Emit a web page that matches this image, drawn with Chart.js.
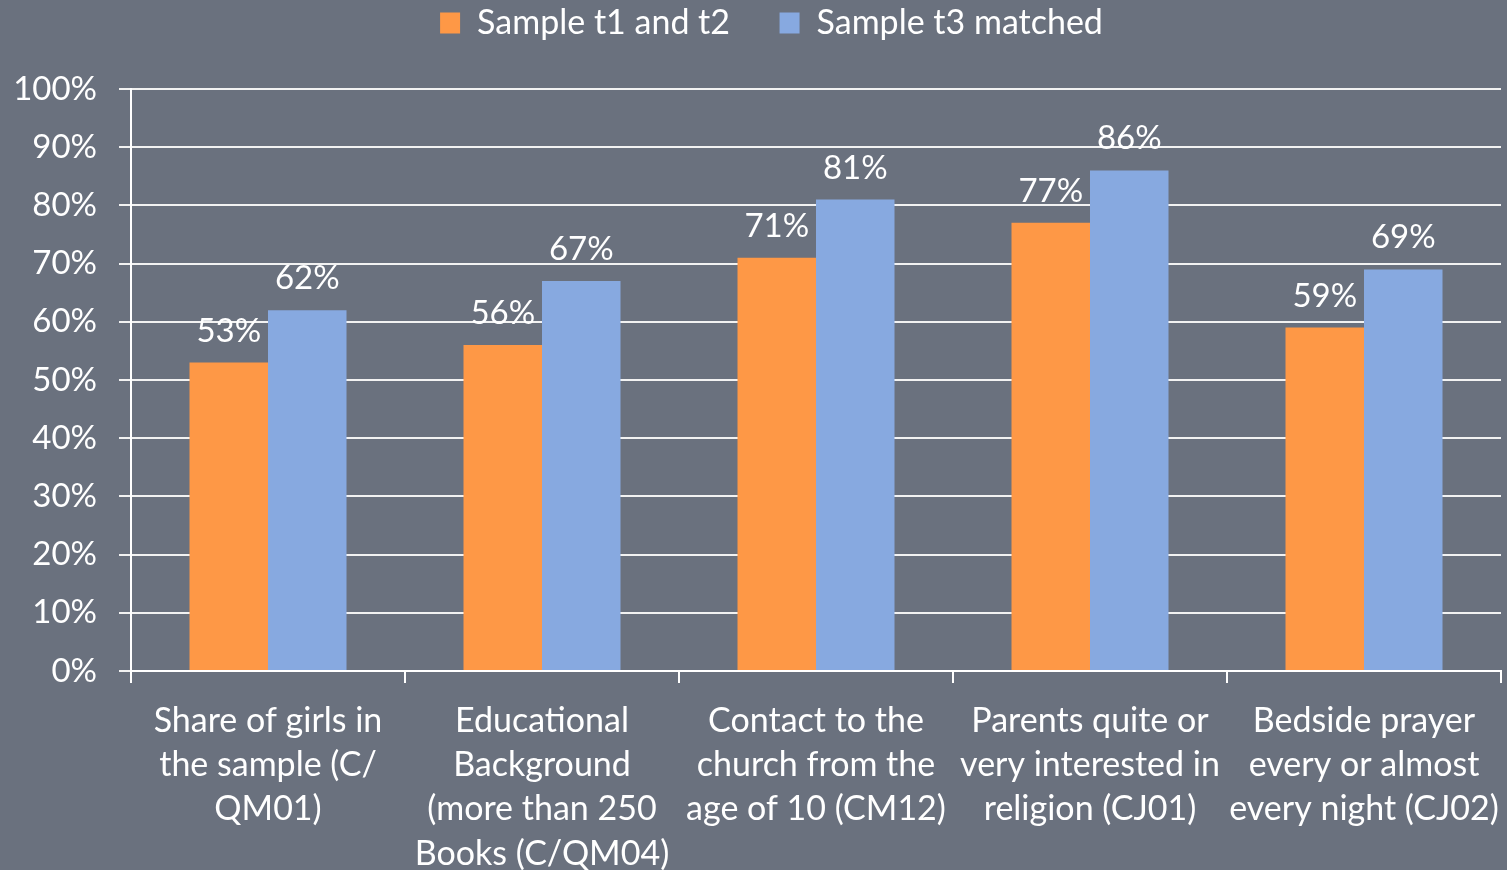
<!DOCTYPE html>
<html>
<head>
<meta charset="utf-8">
<script src="https://cdn.jsdelivr.net/npm/chart.js@4.4.1/dist/chart.umd.min.js"></script>
<style>
  html, body { margin: 0; padding: 0; background: #6a717e; }
  #wrap { width: 1507px; height: 870px; }
</style>
</head>
<body>
<div id="wrap"><canvas id="grafico"></canvas></div>
<script>
// Datos del grafico
const categorias = [
    ["Share of girls in", "the sample (C/", "QM01)"],
    ["Educational", "Background", "(more than 250", "Books (C/QM04)"],
    ["Contact to the", "church from the", "age of 10 (CM12)"],
    ["Parents quite or", "very interested in", "religion (CJ01)"],
    ["Bedside prayer", "every or almost", "every night (CJ02)"]
];
const serieNombres = ["Sample t1 and t2", "Sample t3 matched"];
const muestraT1T2 = [53, 56, 71, 77, 59];
const muestraT3 = [62, 67, 81, 86, 69];
const ticksY = [0, 10, 20, 30, 40, 50, 60, 70, 80, 90, 100];

const colores = ["#fe9846", "#87a9e0"];
const fuente = "Lato, 'Open Sans', sans-serif";

Chart.defaults.font.family = fuente;
Chart.defaults.color = "#ffffff";

// Etiquetas de valor encima de cada barra
const etiquetasValor = {
    id: "etiquetasValor",
    afterDatasetsDraw(chart) {
        const ctx = chart.ctx;
        ctx.save();
        ctx.fillStyle = "#ffffff";
        ctx.font = "33px " + fuente;
        ctx.textAlign = "center";
        ctx.textBaseline = "alphabetic";
        chart.data.datasets.forEach((ds, i) => {
            chart.getDatasetMeta(i).data.forEach((bar, j) => {
                ctx.fillText(ds.data[j] + "%", bar.x, bar.y - 21);
            });
        });
        ctx.restore();
    }
};

// Altura fija de la leyenda y pequeño desplazamiento a la derecha
const leyendaAjuste = {
    id: "leyendaAjuste",
    beforeUpdate(chart) {
        const lg = chart.legend;
        if (lg && !lg._parcheado) {
            const fitOriginal = lg.fit;
            lg.fit = function () {
                fitOriginal.call(this);
                this.height = 89;
            };
            lg._parcheado = true;
        }
    },
    afterLayout(chart) {
        const lg = chart.legend;
        if (lg) {
            lg.left += 21;
            lg.right += 21;
        }
    }
};

new Chart(document.getElementById("grafico"), {
    type: "bar",
    data: {
        labels: categorias,
        datasets: [
            { label: serieNombres[0], data: muestraT1T2, backgroundColor: colores[0] },
            { label: serieNombres[1], data: muestraT3, backgroundColor: colores[1] }
        ]
    },
    options: {
        responsive: true,
        maintainAspectRatio: false,
        animation: false,
        layout: { padding: { left: 0, right: 6, top: 0, bottom: 0 } },
        datasets: {
            bar: { categoryPercentage: 0.573, barPercentage: 1.0 }
        },
        scales: {
            x: {
                grid: {
                    offset: true,
                    drawOnChartArea: false,
                    drawTicks: true,
                    tickLength: 12,
                    color: "#ffffff",
                    lineWidth: 2
                },
                border: { display: true, color: "#ffffff", width: 2 },
                ticks: {
                    color: "#ffffff",
                    padding: 16,
                    maxRotation: 0,
                    autoSkip: false,
                    font: { size: 34, lineHeight: 1.3 }
                },
                afterFit: (scale) => {
                    scale.height = 199;
                    scale.paddingLeft = 0;
                    scale.paddingRight = 0;
                }
            },
            y: {
                min: 0,
                max: 100,
                afterBuildTicks: (scale) => { scale.ticks = ticksY.map(v => ({ value: v })); },
                grid: {
                    color: "#f2f2f2",
                    lineWidth: 2,
                    drawTicks: true,
                    tickLength: 12
                },
                border: { display: true, color: "#ffffff", width: 2 },
                ticks: {
                    color: "#ffffff",
                    padding: 22,
                    font: { size: 33 },
                    callback: (v) => v + "%"
                },
                afterFit: (scale) => { scale.width = 131; }
            }
        },
        plugins: {
            legend: {
                position: "top",
                labels: {
                    color: "#ffffff",
                    boxWidth: 20,
                    boxHeight: 21,
                    padding: 6,
                    font: { size: 34 },
                    generateLabels: (chart) => {
                        const items = Chart.defaults.plugins.legend.labels.generateLabels(chart);
                        items.forEach((it, i) => {
                            it.lineWidth = 0;
                            if (i === 0) it.text = it.text + "\u00a0".repeat(5);
                        });
                        return items;
                    }
                }
            },
            tooltip: { enabled: false }
        }
    },
    plugins: [etiquetasValor, leyendaAjuste]
});
</script>
</body>
</html>
